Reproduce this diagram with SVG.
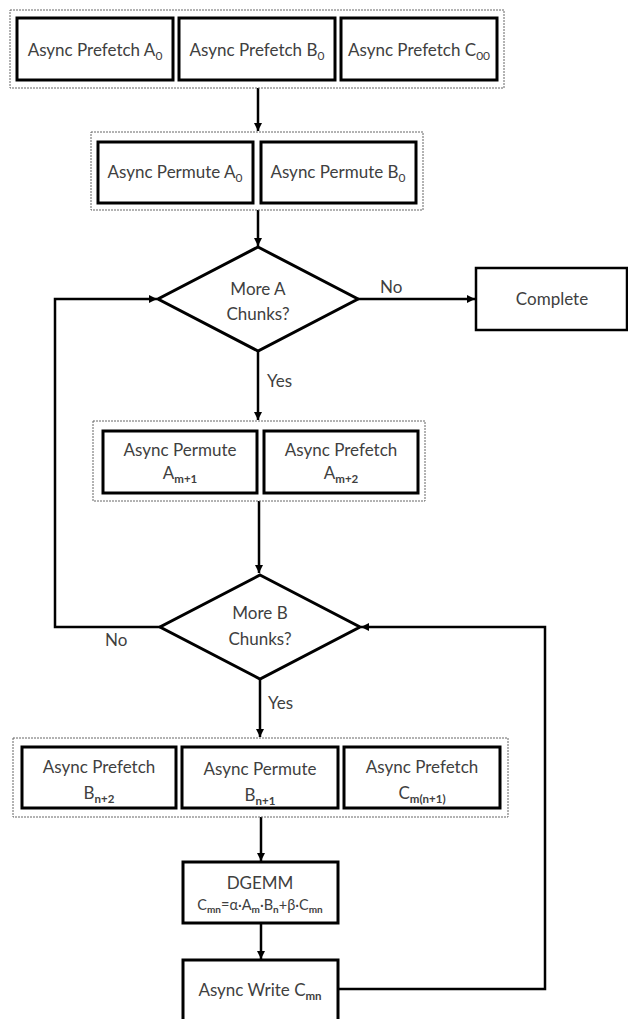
<svg xmlns="http://www.w3.org/2000/svg" width="628" height="1019" viewBox="0 0 628 1019">
<defs>
<marker id="arr" markerUnits="userSpaceOnUse" markerWidth="9" markerHeight="9" refX="8" refY="4" orient="auto">
<path d="M0,0 L8,4 L0,8 z" fill="#000"/>
</marker>
<style>
.grp{fill:none;stroke:#666;stroke-width:1;stroke-dasharray:2,1}
.box{fill:#fff;stroke:#000;stroke-width:3}
.dia{fill:#fff;stroke:#000;stroke-width:3;stroke-linejoin:miter}
.t{font-family:Lato,"Open Sans",sans-serif;font-size:17px;fill:#404040;text-anchor:middle}
.tl{font-family:Lato,"Open Sans",sans-serif;font-size:17px;fill:#404040}
.s{font-size:12px}
.sb{font-size:11.5px;font-weight:bold}
.f{font-size:14.5px}
.c{fill:none;stroke:#000;stroke-width:2.5}
</style>
</defs>
<rect width="628" height="1019" fill="#fff"/>

<g id="connectors">
<line class="c" x1="258" y1="88" x2="258" y2="131" marker-end="url(#arr)"/>
<line class="c" x1="258" y1="210" x2="258" y2="246" marker-end="url(#arr)"/>
<line class="c" x1="358" y1="299" x2="475" y2="299" marker-end="url(#arr)"/>
<line class="c" x1="258" y1="351" x2="258" y2="420" marker-end="url(#arr)"/>
<line class="c" x1="259" y1="501" x2="259" y2="573" marker-end="url(#arr)"/>
<polyline class="c" points="160,627 55,627 55,299 157,299" marker-end="url(#arr)"/>
<line class="c" x1="260" y1="679" x2="260" y2="737" marker-end="url(#arr)"/>
<line class="c" x1="261" y1="817" x2="261" y2="861" marker-end="url(#arr)"/>
<line class="c" x1="261" y1="923" x2="261" y2="959" marker-end="url(#arr)"/>
<polyline class="c" points="338,989 545,989 545,627 361,627" marker-end="url(#arr)"/>
<text class="tl" x="380" y="293">No</text>
<text class="tl" x="267" y="387">Yes</text>
<text class="tl" x="105" y="646">No</text>
<text class="tl" x="268" y="709">Yes</text>
</g>

<g id="prefetch0">
<rect class="grp" x="10" y="10" width="494" height="78"/>
<rect class="box" x="17" y="18" width="156" height="62"/>
<text class="t" x="95" y="56">Async Prefetch  A<tspan class="s" dy="4">0</tspan></text>
<rect class="box" x="179" y="18" width="156" height="62"/>
<text class="t" x="257" y="56">Async Prefetch  B<tspan class="s" dy="4">0</tspan></text>
<rect class="box" x="341" y="18" width="156" height="62"/>
<text class="t" x="419" y="56">Async Prefetch  C<tspan class="s" dy="4">00</tspan></text>
</g>

<g id="permute0">
<rect class="grp" x="91" y="132" width="332" height="78"/>
<rect class="box" x="98" y="142" width="155" height="61"/>
<text class="t" x="175" y="178">Async Permute A<tspan class="s" dy="4">0</tspan></text>
<rect class="box" x="261" y="142" width="155" height="61"/>
<text class="t" x="338" y="178">Async Permute B<tspan class="s" dy="4">0</tspan></text>
</g>

<g id="moreA">
<polygon class="dia" points="258,247 358,299 258,351 158,299"/>
<text class="t" x="258" y="295">More A</text>
<text class="t" x="258" y="320">Chunks?</text>
</g>

<g id="complete">
<rect class="box" x="476" y="268" width="151" height="62" style="stroke-width:2.5"/>
<text class="t" x="552" y="305">Complete</text>
</g>

<g id="permuteA">
<rect class="grp" x="93" y="421" width="332" height="80"/>
<rect class="box" x="103" y="431" width="154" height="62"/>
<text class="t" x="180" y="456">Async Permute</text>
<text class="t" x="180" y="479">A<tspan class="sb" dy="4">m+1</tspan></text>
<rect class="box" x="264" y="431" width="154" height="62"/>
<text class="t" x="341" y="456">Async Prefetch</text>
<text class="t" x="341" y="479">A<tspan class="sb" dy="4">m+2</tspan></text>
</g>

<g id="moreB">
<polygon class="dia" points="260,575 360,627 260,679 160,627"/>
<text class="t" x="260" y="619">More B</text>
<text class="t" x="260" y="645">Chunks?</text>
</g>

<g id="prefetchB">
<rect class="grp" x="13" y="738" width="495" height="79"/>
<rect class="box" x="22" y="747" width="154" height="61"/>
<text class="t" x="99" y="773">Async Prefetch</text>
<text class="t" x="99" y="799">B<tspan class="sb" dy="4">n+2</tspan></text>
<rect class="box" x="182" y="747" width="156" height="61"/>
<text class="t" x="260" y="775">Async Permute</text>
<text class="t" x="260" y="801">B<tspan class="sb" dy="4">n+1</tspan></text>
<rect class="box" x="344" y="747" width="156" height="61"/>
<text class="t" x="422" y="773">Async Prefetch</text>
<text class="t" x="422" y="799">C<tspan class="sb" dy="4">m(n+1)</tspan></text>
</g>

<g id="dgemm">
<rect class="box" x="183" y="862" width="155" height="61"/>
<text class="t" x="260" y="889">DGEMM</text>
<text class="t f" x="260" y="910">C<tspan class="sb" style="font-size:10px" dy="3">mn</tspan><tspan dy="-3">=α·A</tspan><tspan class="sb" style="font-size:10px" dy="3">m</tspan><tspan dy="-3">·B</tspan><tspan class="sb" style="font-size:10px" dy="3">n</tspan><tspan dy="-3">+β·C</tspan><tspan class="sb" style="font-size:10px" dy="3">mn</tspan></text>
</g>

<g id="write">
<rect class="box" x="183" y="960" width="155" height="62"/>
<text class="t" x="260" y="996">Async Write C<tspan class="sb" dy="4">mn</tspan></text>
</g>
</svg>
